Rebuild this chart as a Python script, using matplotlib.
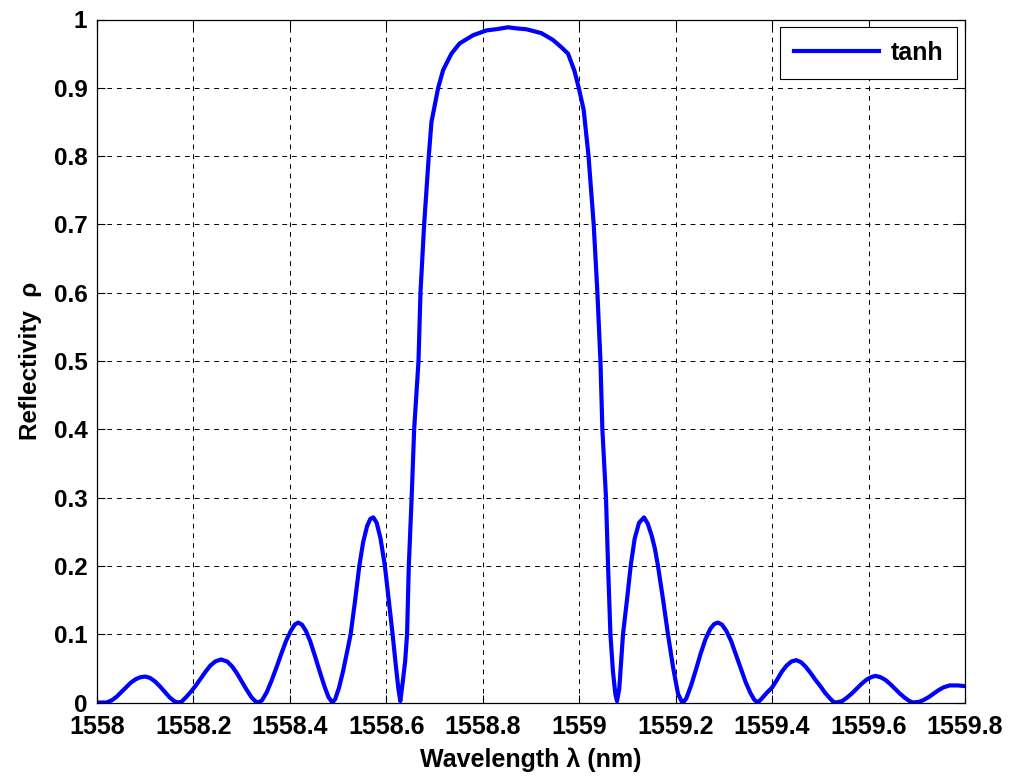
import matplotlib
matplotlib.use("Agg")
import matplotlib.pyplot as plt

plt.rcParams["font.family"] = ["Liberation Sans", "DejaVu Sans"]
plt.rcParams["font.weight"] = "bold"

# wavelength (nm) and reflectivity
wavelength_nm = [
    1558.000, 1558.020, 1558.030, 1558.040, 1558.050, 1558.060, 1558.070, 1558.080,
    1558.090, 1558.100, 1558.110, 1558.120, 1558.130, 1558.140, 1558.150, 1558.160,
    1558.168, 1558.175, 1558.185, 1558.195, 1558.205, 1558.215, 1558.225, 1558.235,
    1558.245, 1558.257, 1558.270, 1558.280, 1558.290, 1558.300, 1558.310, 1558.320,
    1558.328, 1558.334, 1558.342, 1558.352, 1558.362, 1558.372, 1558.382, 1558.392,
    1558.402, 1558.410, 1558.417, 1558.425, 1558.433, 1558.442, 1558.452, 1558.462,
    1558.472, 1558.480, 1558.488, 1558.494, 1558.502, 1558.510, 1558.518, 1558.526,
    1558.535, 1558.544, 1558.552, 1558.560, 1558.567, 1558.573, 1558.580, 1558.588,
    1558.597, 1558.605, 1558.613, 1558.620, 1558.625, 1558.629, 1558.634, 1558.639,
    1558.643, 1558.6466, 1558.6525, 1558.6577, 1558.6667, 1558.6708, 1558.6784, 1558.688,
    1558.6936, 1558.7075, 1558.7178, 1558.735, 1558.752, 1558.780, 1558.8077, 1558.830,
    1558.8524, 1558.870, 1558.8906, 1558.905, 1558.9216, 1558.9457, 1558.962, 1558.9768,
    1558.990, 1558.999, 1559.0093, 1559.0193, 1559.030, 1559.0377, 1559.044, 1559.048,
    1559.0555, 1559.0598, 1559.0647, 1559.070, 1559.075, 1559.0784, 1559.083, 1559.0908,
    1559.099, 1559.1067, 1559.115, 1559.124, 1559.1343, 1559.142, 1559.150, 1559.157,
    1559.1633, 1559.174, 1559.184, 1559.195, 1559.2048, 1559.212, 1559.2155, 1559.222,
    1559.232, 1559.242, 1559.252, 1559.262, 1559.272, 1559.280, 1559.2877, 1559.296,
    1559.305, 1559.315, 1559.325, 1559.335, 1559.345, 1559.355, 1559.363, 1559.3705,
    1559.380, 1559.390, 1559.400, 1559.410, 1559.420, 1559.430, 1559.440, 1559.450,
    1559.460, 1559.470, 1559.480, 1559.490, 1559.500, 1559.510, 1559.520, 1559.527,
    1559.533, 1559.545, 1559.555, 1559.565, 1559.575, 1559.585, 1559.595, 1559.605,
    1559.6145, 1559.625, 1559.635, 1559.645, 1559.655, 1559.665, 1559.675, 1559.685,
    1559.692, 1559.705, 1559.715, 1559.725, 1559.735, 1559.745, 1559.755, 1559.768,
    1559.785, 1559.800,
]
reflectivity = [
    0.000, 0.000, 0.003, 0.008, 0.015, 0.022, 0.029, 0.034,
    0.037, 0.038, 0.036, 0.031, 0.024, 0.016, 0.008, 0.002,
    0.000, 0.001, 0.008, 0.016, 0.025, 0.035, 0.045, 0.054,
    0.060, 0.063, 0.060, 0.053, 0.043, 0.031, 0.019, 0.008,
    0.002, 0.000, 0.003, 0.015, 0.032, 0.051, 0.071, 0.090,
    0.105, 0.114, 0.117, 0.114, 0.105, 0.090, 0.068, 0.045,
    0.023, 0.008, 0.000, 0.005, 0.022, 0.045, 0.072, 0.100,
    0.148, 0.200, 0.235, 0.258, 0.269, 0.271, 0.263, 0.240,
    0.200, 0.150, 0.100, 0.052, 0.020, 0.002, 0.030, 0.060,
    0.100, 0.200, 0.300, 0.400, 0.500, 0.600, 0.700, 0.800,
    0.850, 0.900, 0.926, 0.950, 0.965, 0.977, 0.984, 0.986,
    0.9886, 0.987, 0.9857, 0.983, 0.980, 0.970, 0.960, 0.950,
    0.925, 0.900, 0.8675, 0.800, 0.700, 0.600, 0.500, 0.400,
    0.300, 0.200, 0.100, 0.045, 0.012, 0.002, 0.020, 0.100,
    0.150, 0.200, 0.240, 0.263, 0.271, 0.262, 0.245, 0.225,
    0.200, 0.150, 0.100, 0.050, 0.013, 0.002, 0.000, 0.006,
    0.025, 0.048, 0.072, 0.093, 0.108, 0.115, 0.117, 0.114,
    0.105, 0.090, 0.070, 0.050, 0.030, 0.014, 0.004, 0.000,
    0.007, 0.015, 0.022, 0.033, 0.045, 0.054, 0.060, 0.062,
    0.059, 0.052, 0.043, 0.033, 0.024, 0.014, 0.006, 0.001,
    0.000, 0.002, 0.007, 0.013, 0.020, 0.027, 0.033, 0.037,
    0.039, 0.037, 0.033, 0.027, 0.020, 0.013, 0.007, 0.002,
    0.000, 0.001, 0.004, 0.008, 0.013, 0.018, 0.022, 0.025,
    0.025, 0.024,
]

x_ticks = [1558.0, 1558.2, 1558.4, 1558.6, 1558.8, 1559.0, 1559.2, 1559.4, 1559.6, 1559.8]
x_tick_labels = ["1558", "1558.2", "1558.4", "1558.6", "1558.8",
                 "1559", "1559.2", "1559.4", "1559.6", "1559.8"]
y_ticks = [0, 0.1, 0.2, 0.3, 0.4, 0.5, 0.6, 0.7, 0.8, 0.9, 1.0]
y_tick_labels = ["0", "0.1", "0.2", "0.3", "0.4", "0.5", "0.6", "0.7", "0.8", "0.9", "1"]

fig = plt.figure(figsize=(10.11, 7.76), dpi=100)
ax = fig.add_axes([97 / 1011, (776 - 702.5) / 776, (965 - 97) / 1011, (702.5 - 19.5) / 776])

ax.plot(wavelength_nm, reflectivity, color=(0, 0, 1), lw=3, label="tanh")

ax.set_xlim(1558, 1559.8)
ax.set_ylim(0, 1)
ax.set_xticks(x_ticks)
ax.set_xticklabels(x_tick_labels)
ax.set_yticks(y_ticks)
ax.set_yticklabels(y_tick_labels)
ax.tick_params(direction="in", length=6, width=0.8, top=True, right=True)
ax.tick_params(axis="x", labelsize=18, pad=9)
ax.tick_params(axis="y", labelsize=17.5, pad=7)
for lab in ax.get_xticklabels() + ax.get_yticklabels():
    lab.set_fontweight("bold")

ax.grid(True, color="black", linestyle=(0, (5, 5)), linewidth=0.7)
for s in ax.spines.values():
    s.set_linewidth(0.9)

ax.set_xlabel("Wavelength λ (nm)", fontsize=18, fontweight="bold", labelpad=6)
ax.set_ylabel("Reflectivity  ρ", fontsize=17.5, fontweight="bold", labelpad=8)

leg = ax.legend(loc="upper right", fontsize=18, frameon=True, fancybox=False,
                handlelength=3.4, handletextpad=0.5, borderpad=0.55,
                borderaxespad=0.3, edgecolor="black", framealpha=1)
leg.get_frame().set_linewidth(0.8)
for t in leg.get_texts():
    t.set_fontweight("bold")

fig.savefig("out.png", dpi=100)
